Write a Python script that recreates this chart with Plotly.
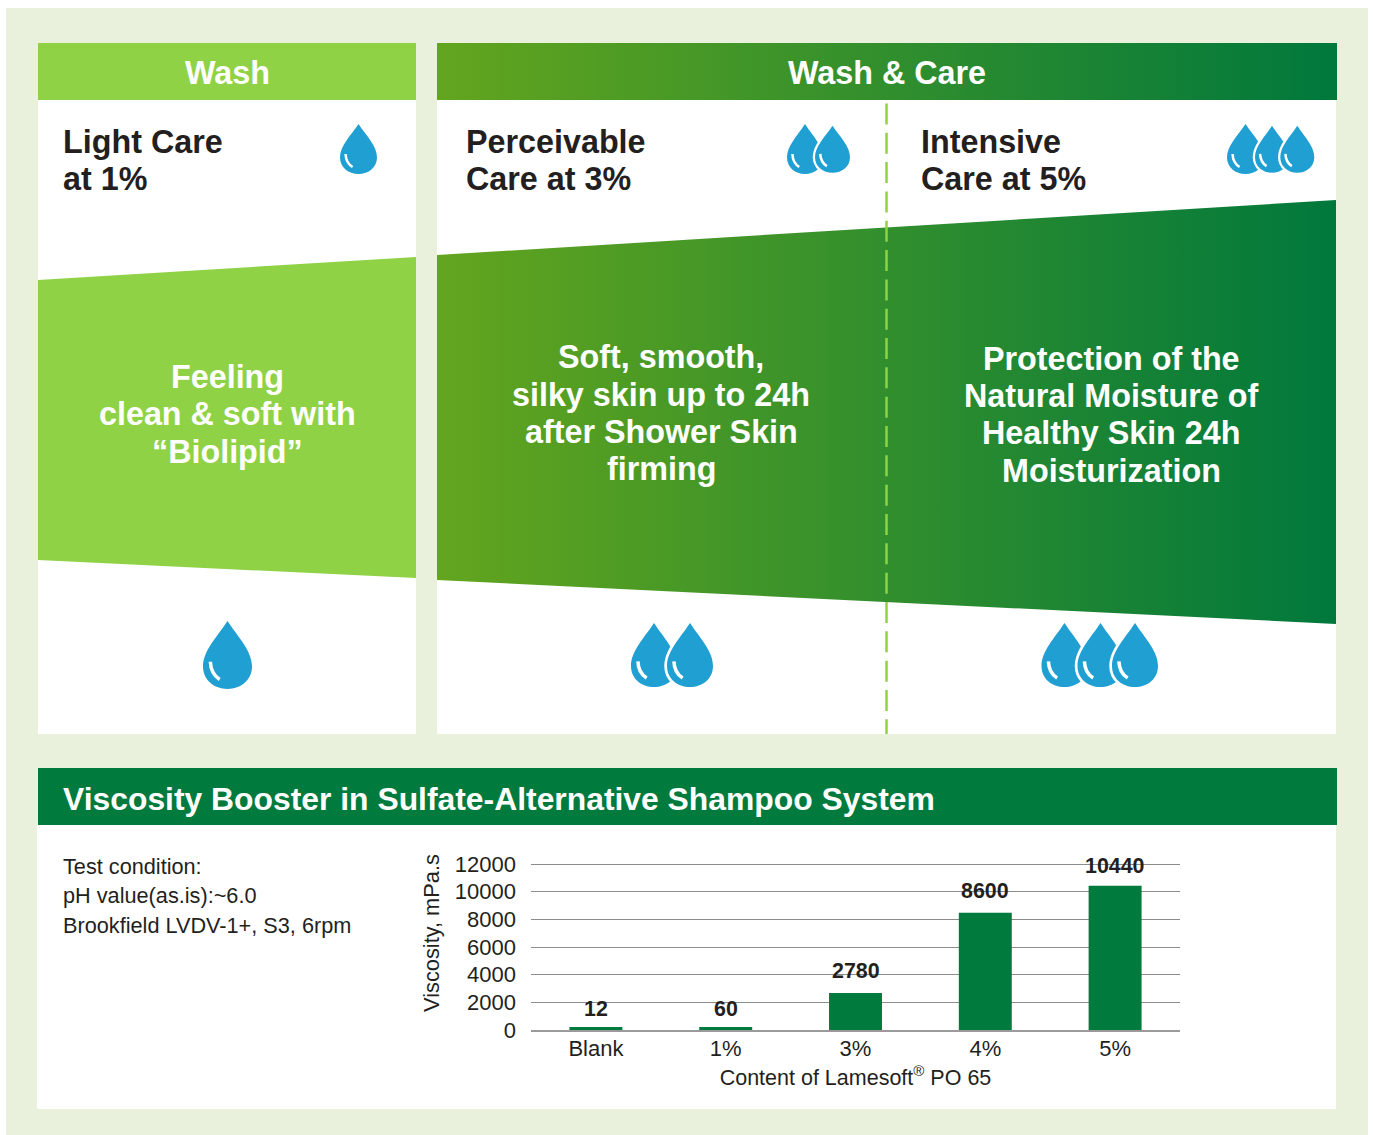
import plotly.graph_objects as go

W, H = 1373, 1135

# ---------- data ----------
categories = ["Blank", "1%", "3%", "4%", "5%"]
bar_heights = [220, 220, 2680, 8470, 10430]
bar_labels = ["12", "60", "2780", "8600", "10440"]
y_ticks = [0, 2000, 4000, 6000, 8000, 10000, 12000]
y_tick_labels = ["0", "2000", "4000", "6000", "8000", "10000", "12000"]
test_lines = ["Test condition:", "pH value(as.is):~6.0", "Brookfield LVDV-1+, S3, 6rpm"]

# ---------- colours ----------
PAGE = "#e9f1dd"
LIME = "#8fd246"
GRAD_L = "#63a51e"
GRAD_R = "#00783c"
DARK = "#007a3d"
BLUE = "#209fd2"
INK = "#231f20"
FONT = "Liberation Sans"

fig = go.Figure()
shapes = []
ann = []


def rect(x0, y0, x1, y1, color, layer="below"):
    shapes.append(dict(type="rect", xref="x", yref="y", x0=x0, y0=y0, x1=x1, y1=y1,
                       fillcolor=color, line_width=0, layer=layer))


def poly(xs, ys, color=None, gradient=False):
    kw = dict(x=xs + xs[:1], y=ys + ys[:1], mode="lines", fill="toself", line=dict(width=0),
              hoverinfo="skip", showlegend=False, xaxis="x", yaxis="y")
    if gradient:
        kw["fillgradient"] = dict(type="horizontal", colorscale=[[0, GRAD_L], [1, GRAD_R]])
    else:
        kw["fillcolor"] = color
    fig.add_trace(go.Scatter(**kw))


def text(x, y, s, size=32.3, bold=True, color=INK, anchor="left"):
    ann.append(dict(xref="x", yref="y", x=x, y=y, text=f"<b>{s}</b>" if bold else s,
                    showarrow=False, xanchor=anchor, yanchor="middle",
                    font=dict(family=FONT, size=size, color=color)))


def drop(cx, top, w, h, hl, halo):
    l, r = cx - w / 2, cx + w / 2
    d = (f"M {cx},{top} C {cx-0.22*w},{top+0.24*h} {l},{top+0.44*h} {l},{top+0.67*h} "
         f"C {l},{top+0.87*h} {cx-0.27*w},{top+h} {cx},{top+h} "
         f"C {cx+0.27*w},{top+h} {r},{top+0.87*h} {r},{top+0.67*h} "
         f"C {r},{top+0.44*h} {cx+0.22*w},{top+0.24*h} {cx},{top} Z")
    shapes.append(dict(type="path", xref="x", yref="y", path=d, fillcolor="white",
                       line=dict(color="white", width=halo), layer="above"))
    shapes.append(dict(type="path", xref="x", yref="y", path=d, fillcolor=BLUE,
                       line_width=0, layer="above"))
    hp = (f"M {cx-0.35*w},{top+0.60*h} Q {cx-0.34*w},{top+0.78*h} {cx-0.16*w},{top+0.86*h}")
    shapes.append(dict(type="path", xref="x", yref="y", path=hp, fillcolor="rgba(0,0,0,0)",
                       line=dict(color="white", width=hl), layer="above"))


# ---------- panels ----------
rect(6, 8, 1368, 1135, PAGE)
rect(38, 100, 416, 734, "white")
rect(437, 100, 1336, 734, "white")
rect(38, 43, 416, 100, LIME)
rect(37, 825, 1336, 1109, "white")
rect(38, 768, 1337, 825, DARK)

poly([437, 1337, 1337, 437], [43, 43, 100, 100], gradient=True)
poly([38, 416, 416, 38], [280, 257, 578, 560], color=LIME)
poly([437, 1336, 1336, 437], [255, 200, 624, 580], gradient=True)

shapes.append(dict(type="line", xref="x", yref="y", x0=886.5, x1=886.5, y0=103.4, y1=734,
                   line=dict(color=LIME, width=2.5, dash="21px,8.33px"), layer="above"))

# ---------- drops ----------
drop(358.5, 124, 37, 50, 2.5, 4.5)
for cx, top, w, h in [(805, 124, 36, 50), (832.5, 125.7, 35, 47)]:
    drop(cx, top, w, h, 2.5, 4.5)
for cx, top, w, h in [(1245.5, 124, 37, 50), (1272, 125.7, 34, 47), (1297.3, 125.7, 34, 47)]:
    drop(cx, top, w, h, 2.5, 4.5)
drop(227.5, 621, 49, 68, 3.5, 5.5)
for cx in (654, 690):
    drop(cx, 623, 46, 64, 3.5, 5.5)
for cx in (1064.5, 1100.5, 1135):
    drop(cx, 623, 46, 64, 3.5, 5.5)

# ---------- texts ----------
text(227, 73, "Wash", color="white", anchor="center")
text(887, 73, "Wash &amp; Care", color="white", anchor="center")
for x, lines in [(61, ["Light Care", "at 1%"]), (464, ["Perceivable", "Care at 3%"]),
                 (919, ["Intensive", "Care at 5%"])]:
    text(x, 142, lines[0])
    text(x, 179, lines[1])
for x, ys, lines in [
    (227, [377, 414, 452], ["Feeling", "clean &amp; soft with", "“Biolipid”"]),
    (661, [357, 395, 432, 469], ["Soft, smooth,", "silky skin up to 24h", "after Shower Skin", "firming"]),
    (1111, [359, 396, 433, 471], ["Protection of the", "Natural Moisture of", "Healthy Skin 24h", "Moisturization"]),
]:
    for y, s in zip(ys, lines):
        text(x, y, s, color="white", anchor="center")
text(61, 799, "Viscosity Booster in Sulfate-Alternative Shampoo System", size=31.85, color="white")
for y, s in zip([866, 895, 925], test_lines):
    text(61, y, s, size=21.7, bold=False)

# ---------- bar chart ----------
fig.add_trace(go.Bar(x=categories, y=bar_heights, xaxis="x2", yaxis="y2", marker_color=DARK,
                     marker_line_width=0, hoverinfo="skip", showlegend=False))
for c, v, s in zip(categories, bar_heights, bar_labels):
    ann.append(dict(xref="x2", yref="y2", x=c, y=v, text=f"<b>{s}</b>", showarrow=False,
                    xanchor="center", yanchor="bottom",
                    yshift=8 - (4 if v < 1000 else 0) - (2 if v > 10000 else 0),
                    font=dict(family=FONT, size=21.4, color=INK)))
ann.append(dict(xref="x", yref="y", x=431, y=933, text="Viscosity, mPa.s", textangle=-90,
                showarrow=False, xanchor="center", yanchor="middle",
                font=dict(family=FONT, size=21.8, color=INK)))

# the axis runs slightly past 12000 so that the top gridline is kept by plotly
Y_TOP = 12120
top_px = 1030 - (1030 - 864) * Y_TOP / 12000

fig.update_layout(
    width=W, height=H, margin=dict(l=0, r=0, t=0, b=0), autosize=False,
    paper_bgcolor="white", plot_bgcolor="rgba(0,0,0,0)", bargap=0.592,
    font=dict(family=FONT, color=INK), shapes=shapes, annotations=ann,
    xaxis=dict(domain=[0, 1], range=[0, W], visible=False, fixedrange=True),
    yaxis=dict(domain=[0, 1], range=[H, 0], visible=False, fixedrange=True),
    xaxis2=dict(domain=[531 / W, 1180 / W], anchor="y2", type="category", showgrid=False,
                ticks="", tickfont=dict(size=22, color=INK), ticklabelstandoff=-2,
                title=dict(text="Content of Lamesoft<sup>®</sup> PO 65",
                           font=dict(size=21.5, color=INK), standoff=10),
                showline=True, linecolor="#9a9a9a", linewidth=2, automargin=False),
    yaxis2=dict(domain=[1 - 1030 / H, 1 - top_px / H], anchor="x2", range=[0, Y_TOP],
                tickvals=y_ticks, ticktext=y_tick_labels, showgrid=True, gridcolor="#8c8c8c",
                gridwidth=1, zeroline=False, ticks="", tickfont=dict(size=22, color=INK),
                automargin=False, ticklabelstandoff=14),
)

fig.write_html("out.html", config=dict(displayModeBar=False),
               post_script="document.body.style.margin='0';document.body.style.overflow='hidden';")
